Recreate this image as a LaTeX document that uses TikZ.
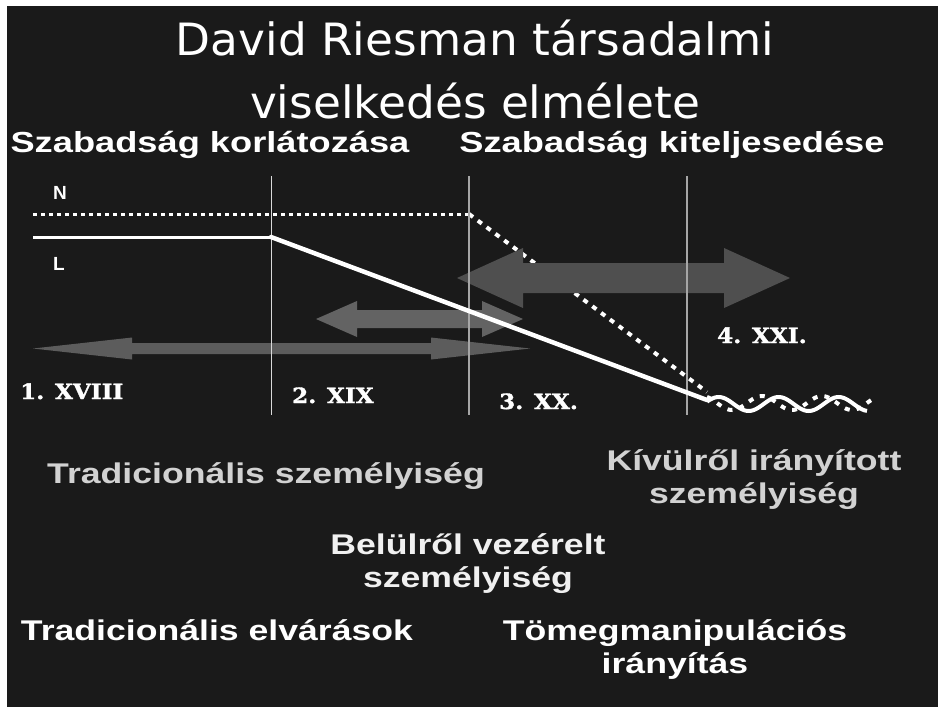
\documentclass[tikz,border=0pt]{standalone}
\usepackage{fontspec}
\setmainfont{DejaVu Sans}
\newfontfamily\titlefont[FakeStretch=1.02]{DejaVu Sans}
\newfontfamily\labelfont[FakeStretch=1.25]{Liberation Sans Bold}
\newfontfamily\plainbold{Liberation Sans Bold}
\newfontfamily\numfont[FakeStretch=1.1, FakeBold=1.6]{DejaVu Serif Bold}

\definecolor{slidebg}{HTML}{1A1A1A}
\definecolor{softgrey}{HTML}{D2D2D2}

% double headed block arrow: left x, right x, y, shaft half, head half, head length, colour
\newcommand{\dblarrow}[7]{%
  \fill[#7] (#1,#3) -- ({#1+#6},{#3-#5}) -- ({#1+#6},{#3-#4}) -- ({#2-#6},{#3-#4})
    -- ({#2-#6},{#3-#5}) -- (#2,#3) -- ({#2-#6},{#3+#5}) -- ({#2-#6},{#3+#4})
    -- ({#1+#6},{#3+#4}) -- ({#1+#6},{#3+#5}) -- cycle;}

\tikzset{
  heading/.style={font=\labelfont\fontsize{29}{34}\selectfont, text=white, inner sep=0pt, anchor=base},
  persona/.style={font=\labelfont\fontsize{28.5}{33}\selectfont, inner sep=0pt, anchor=base, align=center},
  century/.style={font=\numfont\fontsize{21}{24}\selectfont, text=white, inner sep=0pt, anchor=base west},
  divider/.style={line width=1.2pt, gray!70},
  nline/.style={white, line width=3pt, dash pattern=on 4pt off 4pt},
  lline/.style={white, line width=4.5pt},
}

\begin{document}
\begin{tikzpicture}[x=1pt,y=-1pt]
  \useasboundingbox (0,0) rectangle (938,707);
  \fill[white] (0,0) rectangle (938,707);
  \fill[slidebg] (7,6) rectangle (938,707);

  % multi-line nodes sit on the baseline of their last line
  \node[font=\titlefont\fontsize{44.5}{63}\selectfont, text=white, align=center, anchor=base, inner sep=0pt]
    (title) at (475,118) {David Riesman társadalmi\\viselkedés elmélete};
  \node[heading] (limit) at (210,152) {Szabadság korlátozása};
  \node[heading] (freedom) at (672,152) {Szabadság kiteljesedése};

  \coordinate (nStart) at (33,214);
  \coordinate (nBend) at (469,214);
  \coordinate (nEnd) at (707,392);
  \coordinate (lStart) at (33,237);
  \coordinate (lBend) at (271,237);
  \coordinate (lEnd) at (707,400);

  % N line
  \draw[nline, line width=3pt] (nStart) -- (nBend);
  \draw[nline, line width=4pt, dash pattern=on 5pt off 6pt] (nBend) -- (nEnd);
  \draw[nline, line width=4pt, dash pattern=on 5pt off 7pt]
    plot[domain=0:166, samples=80] ({707+\x},{403+7*sin(6*\x-60)});

  % arrows
  \dblarrow{457}{790}{278}{15}{30}{66}{gray!62!black}
  \dblarrow{316}{523}{319}{9}{18}{41}{gray!78!black}
  \dblarrow{33}{530}{348.5}{5.5}{11}{99}{gray!72!black}

  % dividers
  \draw[divider, white!85!black, line width=1pt] (271,176) -- (271,415);
  \draw[divider] (469,176) -- (469,415);
  \draw[divider] (687,176) -- (687,415);

  % L line
  \draw[lline, line width=3pt] (lStart) -- (lBend);
  \draw[lline, line cap=round] (lBend) -- (lEnd);
  \draw[lline, line width=4pt]
    plot[domain=0:160, samples=80] ({707+\x},{404-7*sin(6*\x+20)});

  \node[font=\plainbold\fontsize{19}{22}\selectfont, text=white, anchor=base west, inner sep=0pt] (nlabel) at (53,199) {N};
  \node[font=\plainbold\fontsize{19}{22}\selectfont, text=white, anchor=base west, inner sep=0pt] (llabel) at (53,270) {L};

  \node[century] (c18) at (20,399) {1. XVIII};
  \node[century] (c19) at (292,403) {2. XIX};
  \node[century] (c20) at (499,409) {3. XX.};
  \node[century] (c21) at (717,343) {4. XXI.};

  \node[persona, text=softgrey] (tradp) at (266,483) {Tradicionális személyiség};
  \node[persona, text=softgrey] (outer) at (754,503) {Kívülről irányított\\személyiség};
  \node[persona, text=white!94!black] (inner) at (468,587) {Belülről vezérelt\\személyiség};
  \node[persona, text=white] (trade) at (217,640) {Tradicionális elvárások};
  \node[persona, text=white] (mass) at (675,673) {Tömegmanipulációs\\irányítás};
\end{tikzpicture}
\end{document}
